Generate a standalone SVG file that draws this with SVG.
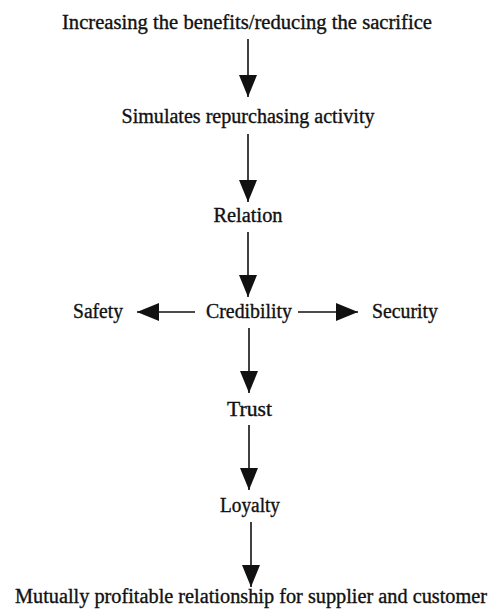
<svg xmlns="http://www.w3.org/2000/svg" width="491" height="610" viewBox="0 0 491 610">
<style>
text{font-family:"Liberation Serif","DejaVu Serif",serif;font-size:20px;fill:#111;stroke:#111;stroke-width:0.35;text-anchor:middle}
.c line{stroke:#111;stroke-width:1.6}
</style>
<defs>
<marker id="ah" markerUnits="userSpaceOnUse" markerWidth="22" markerHeight="18" refX="22" refY="9" orient="auto">
<path d="M0,0 L22,9 L0,18 Z" fill="#111"/>
</marker>
</defs>
<rect width="491" height="610" fill="#fff"/>
<g class="c" id="connectors">
<line x1="248" y1="39" x2="248" y2="97" marker-end="url(#ah)"/>
<line x1="248" y1="134" x2="248" y2="202" marker-end="url(#ah)"/>
<line x1="248" y1="232" x2="248" y2="297" marker-end="url(#ah)"/>
<line x1="195" y1="312" x2="137" y2="312" marker-end="url(#ah)"/>
<line x1="298" y1="312" x2="358" y2="312" marker-end="url(#ah)"/>
<line x1="249" y1="328" x2="249" y2="393" marker-end="url(#ah)"/>
<line x1="249" y1="425" x2="249" y2="490" marker-end="url(#ah)"/>
<line x1="251" y1="522" x2="251" y2="587" marker-end="url(#ah)"/>
</g>
<g id="n1"><text x="247" y="29" textLength="370" lengthAdjust="spacingAndGlyphs">Increasing the benefits/reducing the sacrifice</text></g>
<g id="n2"><text x="248" y="123" textLength="253" lengthAdjust="spacingAndGlyphs">Simulates repurchasing activity</text></g>
<g id="n3"><text x="248" y="222" textLength="69" lengthAdjust="spacingAndGlyphs">Relation</text></g>
<g id="n4"><text x="249" y="318" textLength="86" lengthAdjust="spacingAndGlyphs">Credibility</text></g>
<g id="n5"><text x="98" y="318" textLength="50" lengthAdjust="spacingAndGlyphs">Safety</text></g>
<g id="n6"><text x="405" y="318" textLength="66" lengthAdjust="spacingAndGlyphs">Security</text></g>
<g id="n7"><text x="249.5" y="416" textLength="45" lengthAdjust="spacingAndGlyphs">Trust</text></g>
<g id="n8"><text x="250" y="512" textLength="60" lengthAdjust="spacingAndGlyphs">Loyalty</text></g>
<g id="n9"><text x="251" y="603" textLength="472" lengthAdjust="spacingAndGlyphs">Mutually profitable relationship for supplier and customer</text></g>
</svg>
